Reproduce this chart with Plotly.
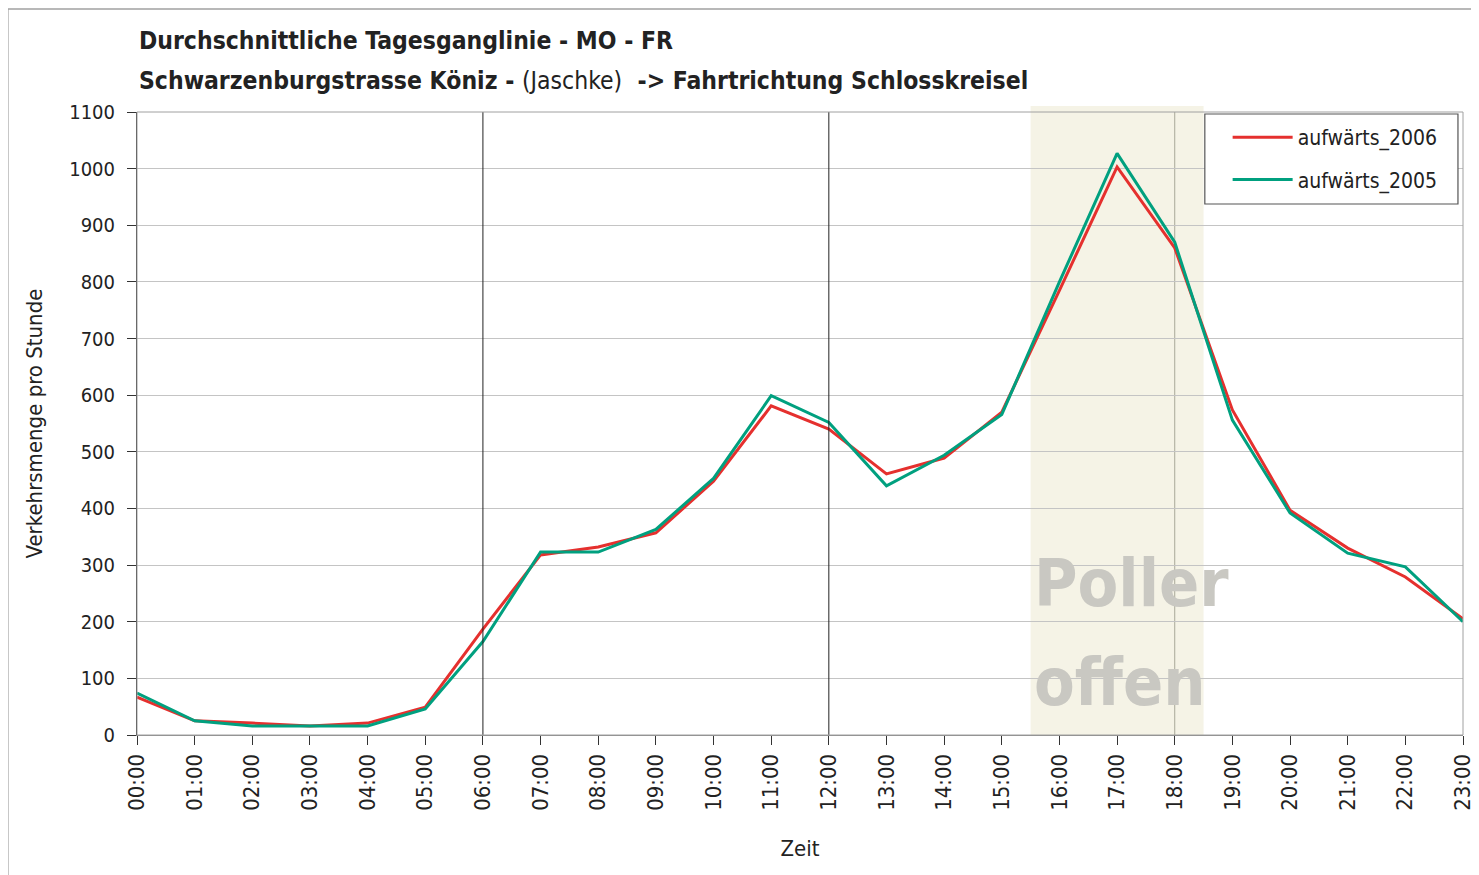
import plotly.graph_objects as go

hours = [f"{h:02d}:00" for h in range(24)]
aufwaerts_2006 = [67, 25, 21, 16, 21, 49, 187, 318, 332, 357, 448, 581, 540, 461, 489, 570, 785, 1003, 860, 574, 397, 330, 279, 205]
aufwaerts_2005 = [74, 25, 16, 16, 16, 46, 165, 323, 323, 363, 453, 599, 552, 440, 494, 566, 800, 1027, 870, 556, 392, 321, 297, 200]
y_ticks = list(range(0, 1101, 100))

FONT = "Liberation Sans Narrow, Arial Narrow, DejaVu Sans Condensed, Liberation Sans, sans-serif"

fig = go.Figure()
fig.add_trace(go.Scatter(x=hours, y=aufwaerts_2006, mode="lines", name="aufwärts_2006",
                         legendgroup="a", line=dict(color="#E5302E", width=3)))
fig.add_trace(go.Scatter(x=hours, y=aufwaerts_2005, mode="lines", name="aufwärts_2005",
                         legendgroup="b", line=dict(color="#00A07F", width=3)))

shapes = [
    # Poller offen shaded band
    dict(type="rect", xref="x", yref="paper", x0=15.5, x1=18.5, y0=0, y1=1.0096,
         fillcolor="#F5F3E6", line=dict(width=0), layer="below"),
    # vertical marker lines
    dict(type="line", xref="x", yref="paper", x0=6, x1=6, y0=0, y1=1,
         line=dict(color="#222222", width=1)),
    dict(type="line", xref="x", yref="paper", x0=12, x1=12, y0=0, y1=1,
         line=dict(color="#222222", width=1)),
    dict(type="line", xref="x", yref="paper", x0=18, x1=18, y0=0, y1=1,
         line=dict(color="#A8A898", width=1), layer="below"),
    # plot border
    dict(type="rect", xref="paper", yref="paper", x0=0, x1=1, y0=0, y1=1,
         line=dict(color="#A0A0A0", width=1)),
    # legend box
    dict(type="rect", xref="paper", yref="paper", x0=0.8053, x1=0.9962, y0=0.8523, y1=0.9968,
         fillcolor="white", line=dict(color="#555555", width=1.2)),
    # outer frame (top and left)
    dict(type="line", xref="paper", yref="paper", x0=-0.0974, x1=1.02, y0=1.1653, y1=1.1653,
         line=dict(color="#A0A0A0", width=1.5)),
    dict(type="line", xref="paper", yref="paper", x0=-0.0974, x1=-0.0974, y0=1.1653, y1=-0.25,
         line=dict(color="#A0A0A0", width=1.5)),
]

annotations = [
    dict(xref="paper", yref="paper", x=0.0, y=1.114, xanchor="left", yanchor="middle",
         text="<b>Durchschnittliche Tagesganglinie - MO - FR</b>", showarrow=False,
         font=dict(family=FONT, size=24.5, color="#222222")),
    dict(xref="paper", yref="paper", x=0.0, y=1.051, xanchor="left", yanchor="middle",
         text="<b>Schwarzenburgstrasse Köniz - </b>(Jaschke)<b>  -> Fahrtrichtung Schlosskreisel</b>",
         showarrow=False, font=dict(family=FONT, size=24.5, color="#222222")),
    dict(xref="x", yref="y", x=15.52, y=268, xanchor="left", yanchor="middle",
         text="<b>Poller</b>", showarrow=False,
         font=dict(family=FONT, size=66, color="#C9C8C2")),
    dict(xref="x", yref="y", x=15.52, y=92, xanchor="left", yanchor="middle",
         text="<b>offen</b>", showarrow=False,
         font=dict(family=FONT, size=66, color="#C9C8C2")),
]

fig.update_layout(
    width=1479, height=867,
    margin=dict(l=129, r=17, t=104, b=140),
    paper_bgcolor="white", plot_bgcolor="white",
    font=dict(family=FONT, size=22, color="#222222"),
    shapes=shapes, annotations=annotations,
    legend=dict(x=0.8225, y=0.992, xanchor="left", yanchor="top",
                bgcolor="rgba(0,0,0,0)", borderwidth=0,
                font=dict(family=FONT, size=21, color="#222222"),
                itemwidth=60, tracegroupgap=12),
    showlegend=True,
)
fig.update_xaxes(type="category", range=[0, 23], tickangle=-90,
                 ticks="outside", ticklen=9, tickcolor="#333333",
                 showgrid=False, showline=True, linecolor="#888888",
                 tickfont=dict(family=FONT, size=22),
                 title=dict(text="Zeit", font=dict(family=FONT, size=22), standoff=30))
fig.update_yaxes(range=[0, 1100], tickvals=y_ticks, ticks="outside", ticklen=9,
                 tickcolor="#333333", showgrid=True, gridcolor="#C4C4C4", gridwidth=1,
                 showline=True, linecolor="#333333", zeroline=False,
                 ticklabelstandoff=8,
                 tickfont=dict(family=FONT, size=20),
                 title=dict(text="Verkehrsmenge pro Stunde", font=dict(family=FONT, size=22), standoff=20))

fig.write_html("out.html")
